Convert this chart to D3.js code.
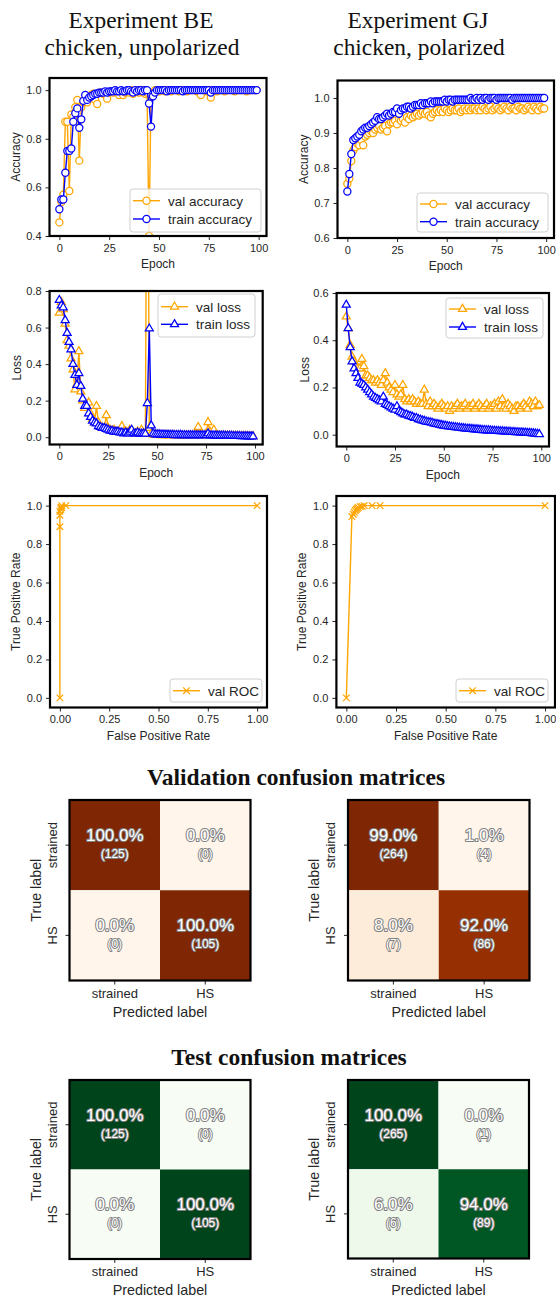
<!DOCTYPE html>
<html>
<head>
<meta charset="utf-8">
<script src="https://cdn.jsdelivr.net/npm/d3@7"></script>
<style>
body{margin:0;background:#fff;}
svg{display:block;font-family:"Liberation Sans",Arial,sans-serif;}
</style>
</head>
<body>
<svg id="fig" width="556" height="1298"></svg>
<script>
// ---- data (epoch = array index) ----
var beValAcc = [0.456,0.54,0.57,0.87,0.87,0.585,0.90,0.89,0.93,0.96,
 0.71,0.93,0.95,0.96,0.95,0.97,0.98,0.985,0.96,0.943,
 0.99,0.99,0.985,0.99,0.965,0.99,0.995,0.99,0.995,0.99,
 0.98,0.995,0.98,0.99,0.995,0.99,1.0,0.985,0.995,1.0,
 0.99,0.995,1.0,0.985,0.99,0.40,0.98,0.99,1.0,1.0,
 0.995,1.0,1.0,0.995,1.0,1.0,0.995,1.0,1.0,1.0,
 0.995,1.0,1.0,1.0,0.995,1.0,1.0,1.0,1.0,0.995,
 1.0,0.98,1.0,1.0,0.995,1.0,0.97,1.0,1.0,0.995,
 1.0,1.0,1.0,0.995,1.0,1.0,1.0,1.0,0.995,1.0,
 1.0,1.0,1.0,1.0,0.995,1.0,1.0,1.0,1.0,1.0];
var beTrainAcc = [0.51,0.55,0.55,0.66,0.75,0.75,0.76,0.87,0.905,0.925,
 0.845,0.88,0.956,0.98,0.96,0.97,0.975,0.98,0.985,0.985,
 0.99,0.99,0.99,0.995,0.99,0.995,0.995,0.995,1.0,0.995,
 0.995,1.0,0.995,0.995,1.0,1.0,0.995,0.99,1.0,0.995,
 1.0,1.0,0.995,1.0,1.0,0.945,0.85,0.975,0.99,1.0,
 1.0,1.0,1.0,1.0,0.995,1.0,1.0,1.0,1.0,1.0,
 1.0,1.0,0.995,1.0,1.0,1.0,1.0,1.0,1.0,1.0,
 1.0,1.0,1.0,1.0,1.0,1.0,0.99,1.0,1.0,1.0,
 1.0,1.0,1.0,1.0,1.0,1.0,1.0,1.0,1.0,1.0,
 1.0,1.0,1.0,1.0,1.0,1.0,1.0,1.0,1.0,1.0];
var beValLoss = [0.68,0.74,0.70,0.62,0.53,0.50,0.43,0.37,0.26,0.29,
 0.47,0.25,0.20,0.16,0.17,0.19,0.13,0.10,0.08,0.17,
 0.08,0.06,0.05,0.05,0.12,0.05,0.04,0.035,0.04,0.03,
 0.03,0.035,0.06,0.03,0.03,0.025,0.04,0.03,0.025,0.02,
 0.03,0.02,0.04,0.02,0.02,2.40,0.05,0.02,0.015,0.015,
 0.012,0.012,0.01,0.01,0.012,0.01,0.01,0.01,0.012,0.01,
 0.01,0.01,0.01,0.01,0.01,0.01,0.01,0.01,0.01,0.01,
 0.015,0.055,0.015,0.01,0.01,0.02,0.082,0.03,0.01,0.04,
 0.01,0.01,0.008,0.008,0.008,0.008,0.008,0.008,0.007,0.007,
 0.007,0.007,0.006,0.006,0.006,0.006,0.006,0.005,0.005,0.005];
var beTrainLoss = [0.75,0.72,0.71,0.64,0.57,0.52,0.48,0.40,0.34,0.285,
 0.35,0.28,0.21,0.17,0.17,0.13,0.11,0.09,0.08,0.075,
 0.06,0.055,0.05,0.05,0.045,0.04,0.035,0.035,0.03,0.03,
 0.03,0.025,0.025,0.02,0.025,0.02,0.03,0.04,0.02,0.02,
 0.025,0.02,0.018,0.02,0.018,0.186,0.594,0.064,0.02,0.015,
 0.015,0.015,0.014,0.014,0.013,0.013,0.012,0.012,0.012,0.011,
 0.011,0.011,0.012,0.01,0.01,0.01,0.01,0.01,0.01,0.01,
 0.01,0.01,0.01,0.01,0.01,0.01,0.02,0.01,0.009,0.009,
 0.009,0.008,0.008,0.008,0.008,0.007,0.007,0.007,0.007,0.006,
 0.006,0.006,0.006,0.005,0.005,0.005,0.005,0.004,0.004,0.004];

var gjValAcc = [0.755,0.77,0.82,0.85,0.86,0.87,0.865,0.88,0.865,0.89,
 0.895,0.90,0.905,0.90,0.91,0.915,0.92,0.91,0.915,0.92,
 0.905,0.925,0.93,0.93,0.935,0.925,0.94,0.935,0.94,0.93,
 0.945,0.94,0.95,0.945,0.95,0.955,0.95,0.955,0.96,0.955,
 0.96,0.95,0.945,0.955,0.96,0.965,0.96,0.965,0.96,0.97,
 0.965,0.96,0.965,0.97,0.965,0.965,0.97,0.96,0.965,0.97,
 0.965,0.97,0.965,0.97,0.97,0.965,0.97,0.965,0.975,0.97,
 0.965,0.97,0.975,0.965,0.97,0.975,0.97,0.965,0.97,0.975,
 0.97,0.965,0.975,0.97,0.97,0.965,0.975,0.97,0.97,0.965,
 0.97,0.975,0.97,0.965,0.975,0.97,0.965,0.975,0.97,0.97];
var gjTrainAcc = [0.733,0.783,0.84,0.88,0.885,0.89,0.895,0.905,0.91,0.915,
 0.915,0.92,0.925,0.93,0.935,0.945,0.94,0.94,0.945,0.95,
 0.955,0.95,0.955,0.96,0.96,0.97,0.955,0.965,0.97,0.97,
 0.975,0.975,0.97,0.975,0.98,0.98,0.98,0.985,0.98,0.985,
 0.985,0.985,0.99,0.985,0.99,0.99,0.99,0.99,0.99,0.995,
 0.99,0.995,0.995,0.99,0.995,0.995,0.995,0.995,0.995,0.995,
 0.995,0.995,1.0,0.995,0.995,1.0,0.995,1.0,0.995,1.0,
 1.0,0.995,1.0,1.0,1.0,0.995,1.0,1.0,1.0,1.0,
 1.0,1.0,1.0,0.995,1.0,1.0,1.0,1.0,1.0,1.0,
 1.0,1.0,1.0,1.0,1.0,1.0,1.0,1.0,1.0,1.0];
var gjValLoss = [0.50,0.45,0.38,0.33,0.31,0.29,0.28,0.28,0.32,0.29,
 0.25,0.25,0.24,0.23,0.23,0.22,0.23,0.22,0.21,0.23,
 0.26,0.22,0.20,0.19,0.18,0.21,0.17,0.16,0.17,0.21,
 0.15,0.14,0.15,0.14,0.15,0.14,0.13,0.14,0.13,0.13,
 0.19,0.13,0.12,0.14,0.12,0.13,0.12,0.11,0.12,0.13,
 0.12,0.11,0.12,0.10,0.12,0.11,0.12,0.13,0.11,0.12,
 0.12,0.13,0.11,0.12,0.12,0.13,0.11,0.12,0.13,0.12,
 0.11,0.12,0.13,0.11,0.12,0.12,0.13,0.11,0.14,0.12,
 0.15,0.12,0.11,0.13,0.12,0.11,0.10,0.12,0.12,0.11,
 0.12,0.13,0.12,0.11,0.14,0.13,0.12,0.14,0.12,0.125];
var gjTrainLoss = [0.55,0.45,0.37,0.31,0.28,0.26,0.24,0.22,0.215,0.21,
 0.20,0.19,0.18,0.17,0.16,0.155,0.15,0.145,0.14,0.16,
 0.13,0.125,0.12,0.115,0.11,0.105,0.12,0.10,0.095,0.09,
 0.085,0.085,0.08,0.078,0.075,0.07,0.07,0.065,0.063,0.06,
 0.058,0.055,0.053,0.052,0.05,0.047,0.045,0.044,0.042,0.04,
 0.038,0.037,0.035,0.034,0.033,0.032,0.031,0.03,0.029,0.028,
 0.027,0.026,0.025,0.025,0.024,0.023,0.022,0.022,0.021,0.02,
 0.019,0.019,0.018,0.018,0.017,0.016,0.016,0.015,0.015,0.014,
 0.014,0.013,0.013,0.012,0.012,0.011,0.011,0.01,0.01,0.009,
 0.009,0.008,0.008,0.007,0.007,0.006,0.005,0.004,0.003,0.002];

var beFpr = [0, 0, 0, 0, 0.005, 0.005, 0.01, 0.01, 0.03, 1.0];
var beTpr = [0, 0.89, 0.95, 0.97, 0.98, 0.99, 0.99, 1.0, 1.0, 1.0];
var gjFpr = [0, 0.028, 0.035, 0.04, 0.045, 0.05, 0.055, 0.06, 0.07, 0.08, 0.09, 0.13, 0.17, 1.0];
var gjTpr = [0, 0.943, 0.955, 0.965, 0.975, 0.98, 0.985, 0.99, 0.995, 0.995, 1.0, 1.0, 1.0, 1.0];

var classes = ["strained", "HS"];
var beValPct = [[100, 0], [0, 100]],  beValCount = [[125, 0], [0, 105]];
var gjValPct = [[99, 1], [8, 92]],    gjValCount = [[264, 4], [7, 86]];
var beTestPct = [[100, 0], [0, 100]], beTestCount = [[125, 0], [0, 105]];
var gjTestPct = [[100, 0], [6, 94]],  gjTestCount = [[265, 1], [6, 89]];

var epochTicks = [0, 25, 50, 75, 100];
var rateTicks = [0, 0.25, 0.5, 0.75, 1];

// ---- drawing ----
var svg = d3.select("#fig");
var orange = "#ffa500", blue = "#0000ff", ink = "#262626";
svg.append("rect").attr("width", 556).attr("height", 1298).attr("fill", "#fff");

function lineChart(o) {
  var g = svg.append("g");
  var x = d3.scaleLinear().domain(o.xd).range([o.x0, o.x1]),
      y = d3.scaleLinear().domain(o.yd).range([o.y1, o.y0]);
  var id = "clip" + o.id;
  g.append("clipPath").attr("id", id).append("rect")
    .attr("x", o.x0).attr("y", o.y0).attr("width", o.x1 - o.x0).attr("height", o.y1 - o.y0);

  g.append("g").attr("transform", `translate(0,${o.y1})`)
    .call(d3.axisBottom(x).tickValues(o.xt).tickFormat(o.xf).tickSize(4).tickPadding(4));
  g.append("g").attr("transform", `translate(${o.x0},0)`)
    .call(d3.axisLeft(y).tickValues(o.yt).tickFormat(o.yf).tickSize(4).tickPadding(4));
  g.selectAll(".domain").remove();
  g.selectAll(".tick text").attr("font-size", 11).attr("fill", ink).attr("font-family", null);
  g.selectAll(".tick line").attr("stroke", ink);

  var plot = g.append("g").attr("clip-path", `url(#${id})`);
  o.series.forEach(function(s) {
    var pts = s.y.map((v, i) => [x(s.x ? s.x[i] : i), y(v)]);
    plot.append("path").attr("d", d3.line()(pts))
      .attr("fill", "none").attr("stroke", s.color).attr("stroke-width", 1.4);
    plot.selectAll(null).data(pts).enter().append("path")
      .attr("transform", d => `translate(${d[0]},${d[1]})`)
      .attr("d", d3.symbol(s.sym, s.size)())
      .attr("fill", s.sym === d3.symbolTimes ? "none" : "#fff")
      .attr("stroke", s.color).attr("stroke-width", 1.25);
  });

  g.append("rect").attr("x", o.x0).attr("y", o.y0)
    .attr("width", o.x1 - o.x0).attr("height", o.y1 - o.y0)
    .attr("fill", "none").attr("stroke", "#000").attr("stroke-width", 2.2);

  g.append("text").attr("x", (o.x0 + o.x1) / 2).attr("y", o.y1 + 32)
    .attr("text-anchor", "middle").attr("font-size", 12).attr("fill", ink).text(o.xl);
  g.append("text").attr("transform", `translate(${o.ylx},${(o.y0 + o.y1) / 2}) rotate(-90)`)
    .attr("text-anchor", "middle").attr("font-size", 12).attr("fill", ink).text(o.yl);

  // legend
  var L = o.legend;
  var lg = g.append("g");
  lg.append("rect").attr("x", L.x0).attr("y", L.y0).attr("width", L.x1 - L.x0).attr("height", L.y1 - L.y0)
    .attr("rx", 3).attr("fill", "#fff").attr("fill-opacity", 0.8).attr("stroke", "#d0d0d0");
  o.series.forEach(function(s, i) {
    var cy = L.y0 + L.first + i * L.step;
    lg.append("line").attr("x1", L.x0 + 3).attr("x2", L.x0 + 30).attr("y1", cy).attr("y2", cy)
      .attr("stroke", s.color).attr("stroke-width", 1.4);
    lg.append("path").attr("transform", `translate(${L.x0 + 16.5},${cy})`)
      .attr("d", d3.symbol(s.sym, s.size)())
      .attr("fill", s.sym === d3.symbolTimes ? "none" : "#fff")
      .attr("stroke", s.color).attr("stroke-width", 1.25);
    lg.append("text").attr("x", L.x0 + 38).attr("y", cy + 5)
      .attr("font-size", 13.5).attr("fill", ink).text(s.label);
  });
}

function matrix(o) {
  var g = svg.append("g");
  var x = d3.scaleBand().domain(classes).range([o.x0, o.x1]),
      y = d3.scaleBand().domain(classes).range([o.y0, o.y1]);
  var cells = [];
  o.pct.forEach((row, i) => row.forEach((v, j) => cells.push({r: classes[i], c: classes[j], v: v, n: o.count[i][j]})));
  var color = d3.scaleSequential(o.interp).domain(d3.extent(cells, d => d.v));

  g.selectAll(null).data(cells).enter().append("rect")
    .attr("x", d => x(d.c)).attr("y", d => y(d.r))
    .attr("width", x.bandwidth()).attr("height", y.bandwidth())
    .attr("fill", d => color(d.v));
  var txt = g.selectAll(null).data(cells).enter().append("g")
    .attr("transform", d => `translate(${x(d.c) + x.bandwidth() / 2},${y(d.r) + y.bandwidth() / 2})`)
    .attr("text-anchor", "middle").attr("fill", "#fff")
    .attr("stroke", "#808080").attr("paint-order", "stroke").attr("stroke-linejoin", "round");
  txt.append("text").attr("y", -4).attr("font-size", 17).attr("stroke-width", 2.1)
    .text(d => d.v.toFixed(1) + "%");
  txt.append("text").attr("y", 13).attr("font-size", 12).attr("stroke-width", 1.9)
    .text(d => "(" + d.n + ")");

  g.append("g").attr("transform", `translate(0,${o.y1})`)
    .call(d3.axisBottom(x).tickSize(4).tickPadding(4))
    .call(a => a.select(".domain").remove())
    .call(a => a.selectAll("text").attr("font-size", 13).attr("fill", ink).attr("font-family", null));
  g.append("g").attr("transform", `translate(${o.x0},0)`)
    .call(d3.axisLeft(y).tickSize(4).tickFormat(""))
    .call(a => a.select(".domain").remove());
  g.selectAll(".tick line").attr("stroke", ink);
  classes.forEach(function(c) {
    g.append("text").attr("transform", `translate(${o.x0 - 13},${y(c) + y.bandwidth() / 2}) rotate(-90)`)
      .attr("text-anchor", "middle").attr("font-size", 13).attr("fill", ink).text(c);
  });

  g.append("rect").attr("x", o.x0).attr("y", o.y0)
    .attr("width", o.x1 - o.x0).attr("height", o.y1 - o.y0)
    .attr("fill", "none").attr("stroke", "#000").attr("stroke-width", 2.2);

  g.append("text").attr("x", (o.x0 + o.x1) / 2).attr("y", o.y1 + 36)
    .attr("text-anchor", "middle").attr("font-size", 14.3).attr("fill", ink).text("Predicted label");
  g.append("text").attr("transform", `translate(${o.x0 - 29},${(o.y0 + o.y1) / 2}) rotate(-90)`)
    .attr("text-anchor", "middle").attr("font-size", 14.3).attr("fill", ink).text("True label");
}

// titles
function serifText(x, y, size, weight, s) {
  svg.append("text").attr("x", x).attr("y", y).attr("text-anchor", "middle")
    .attr("font-family", "'Liberation Serif','Times New Roman',serif")
    .attr("font-size", size).attr("font-weight", weight).attr("fill", "#111").text(s);
}
serifText(141, 28, 23.4, "normal", "Experiment BE");
serifText(142, 55, 23.4, "normal", "chicken, unpolarized");
serifText(418, 28, 23.4, "normal", "Experiment GJ");
serifText(419, 55, 23.4, "normal", "chicken, polarized");
serifText(296, 785, 23.5, "bold", "Validation confusion matrices");
serifText(289, 1065, 23.5, "bold", "Test confusion matrices");

var f1 = d3.format(".1f"), f2 = d3.format(".2f"), fi = d3.format("d");
var circ = d3.symbolCircle, tri = d3.symbolTriangle, cross = d3.symbolTimes;

lineChart({id: "accL", x0: 49.5, x1: 266.5, y0: 78, y1: 236, xd: [-4.95, 103.95], yd: [0.4, 1.05],
  xt: epochTicks, xf: fi, yt: [0.4, 0.6, 0.8, 1.0], yf: f1, xl: "Epoch", yl: "Accuracy", ylx: 20,
  series: [{y: beValAcc, color: orange, sym: circ, size: 40, label: "val accuracy"},
           {y: beTrainAcc, color: blue, sym: circ, size: 40, label: "train accuracy"}],
  legend: {x0: 130, x1: 261, y0: 189, y1: 232, first: 11.7, step: 18.3}});
lineChart({id: "accR", x0: 337.5, x1: 554, y0: 80.5, y1: 238, xd: [-4.95, 103.95], yd: [0.6, 1.05],
  xt: epochTicks, xf: fi, yt: [0.6, 0.7, 0.8, 0.9, 1.0], yf: f1, xl: "Epoch", yl: "Accuracy", ylx: 307.5,
  series: [{y: gjValAcc, color: orange, sym: circ, size: 40, label: "val accuracy"},
           {y: gjTrainAcc, color: blue, sym: circ, size: 40, label: "train accuracy"}],
  legend: {x0: 417, x1: 548, y0: 193, y1: 232, first: 11, step: 17.7}});
lineChart({id: "lossL", x0: 49.6, x1: 262.7, y0: 291, y1: 444.5, xd: [-4.95, 103.95], yd: [-0.04, 0.8],
  xt: epochTicks, xf: fi, yt: [0, 0.2, 0.4, 0.6, 0.8], yf: f1, xl: "Epoch", yl: "Loss", ylx: 21,
  series: [{y: beValLoss, color: orange, sym: tri, size: 28, label: "val loss"},
           {y: beTrainLoss, color: blue, sym: tri, size: 28, label: "train loss"}],
  legend: {x0: 158, x1: 255, y0: 294, y1: 337, first: 12.7, step: 17.6}});
lineChart({id: "lossR", x0: 336.6, x1: 549, y0: 293, y1: 446.5, xd: [-4.95, 103.95], yd: [-0.05, 0.6],
  xt: epochTicks, xf: fi, yt: [0, 0.2, 0.4, 0.6], yf: f1, xl: "Epoch", yl: "Loss", ylx: 308.5,
  series: [{y: gjValLoss, color: orange, sym: tri, size: 28, label: "val loss"},
           {y: gjTrainLoss, color: blue, sym: tri, size: 28, label: "train loss"}],
  legend: {x0: 446, x1: 543, y0: 298, y1: 338, first: 11, step: 18}});
lineChart({id: "rocL", x0: 50, x1: 267, y0: 496, y1: 707.5, xd: [-0.05, 1.05], yd: [-0.05, 1.05],
  xt: rateTicks, xf: f2, yt: [0, 0.2, 0.4, 0.6, 0.8, 1.0], yf: f1, xl: "False Positive Rate", yl: "True Positive Rate", ylx: 20,
  series: [{x: beFpr, y: beTpr, color: orange, sym: cross, size: 30, label: "val ROC"}],
  legend: {x0: 170, x1: 262, y0: 679, y1: 702, first: 11.7, step: 18}});
lineChart({id: "rocR", x0: 336.4, x1: 555, y0: 496, y1: 707.5, xd: [-0.05, 1.05], yd: [-0.05, 1.05],
  xt: rateTicks, xf: f2, yt: [0, 0.2, 0.4, 0.6, 0.8, 1.0], yf: f1, xl: "False Positive Rate", yl: "True Positive Rate", ylx: 306,
  series: [{x: gjFpr, y: gjTpr, color: orange, sym: cross, size: 30, label: "val ROC"}],
  legend: {x0: 456, x1: 548, y0: 679, y1: 702, first: 11.7, step: 18}});

matrix({x0: 69.5, x1: 250.5, y0: 800, y1: 980.5, pct: beValPct, count: beValCount, interp: d3.interpolateOranges});
matrix({x0: 348, x1: 529.5, y0: 800, y1: 980.5, pct: gjValPct, count: gjValCount, interp: d3.interpolateOranges});
matrix({x0: 69.5, x1: 250.5, y0: 1080, y1: 1259, pct: beTestPct, count: beTestCount, interp: d3.interpolateGreens});
matrix({x0: 348, x1: 529, y0: 1080, y1: 1258.5, pct: gjTestPct, count: gjTestCount, interp: d3.interpolateGreens});
</script>
</body>
</html>
